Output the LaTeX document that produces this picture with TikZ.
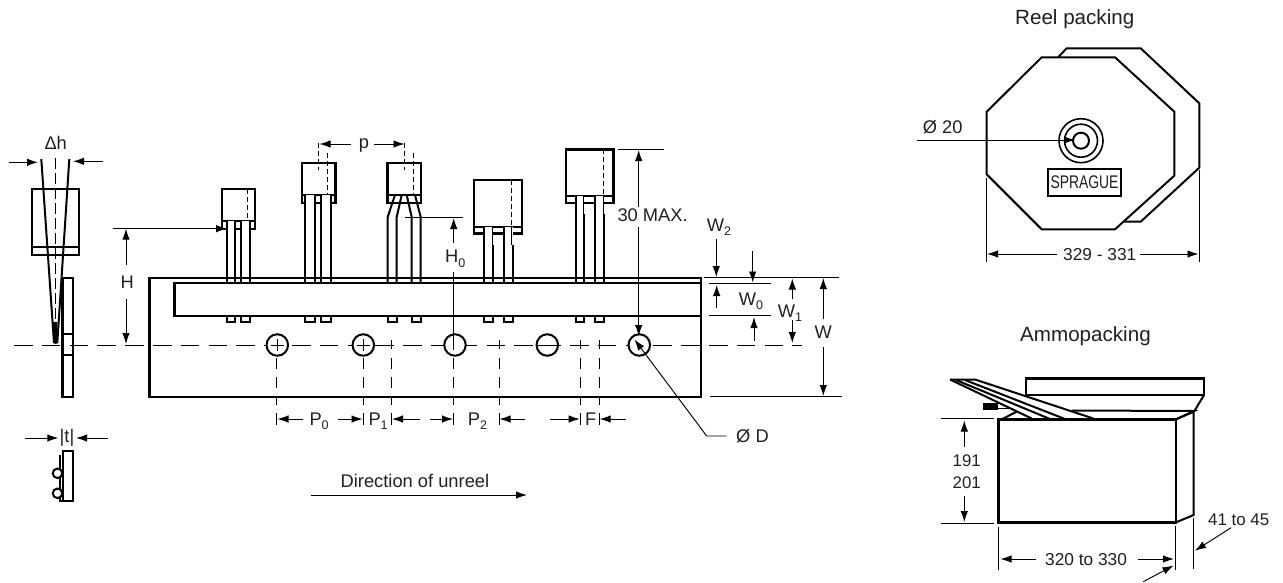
\documentclass[tikz,border=0pt]{standalone}
\usepackage{fontspec}
\setmainfont{Liberation Sans}
\usetikzlibrary{arrows.meta}
\definecolor{ink}{RGB}{35,31,32}
\newcommand{\sbs}[1]{\raisebox{-4.5pt}{\fontsize{12.5}{13}\selectfont #1}}
\tikzset{
 px/.style={x=1pt,y=-1pt},
 thick line/.style={line width=2.4pt,line join=miter},
 med line/.style={line width=2pt,line join=miter},
 thin line/.style={line width=0.95pt},
 arr/.style={thin line,-{Latex[length=11pt,width=7.5pt]}},
 center dash/.style={line width=0.95pt,dash pattern=on 18.5pt off 9.3pt},
 short dash/.style={line width=0.95pt,dash pattern=on 11pt off 8pt},
 fine dash/.style={line width=0.95pt,dash pattern=on 5pt off 3pt},
 lbl/.style={inner sep=0pt,text=ink,font=\fontsize{18.3}{20}\selectfont},
 lbls/.style={inner sep=0pt,text=ink,font=\fontsize{17.3}{20}\selectfont},
 title/.style={inner sep=0pt,text=ink,font=\fontsize{20.6}{22}\selectfont},
 hole/.style={circle,draw,line width=2pt,minimum size=21.5pt,inner sep=0pt,fill=white},
}
\begin{document}
\begin{tikzpicture}[px]
\useasboundingbox (0,0) rectangle (1283,582);
\fill[white] (0,0) rectangle (1283,582);
% tape
\draw[center dash] (14,345) -- (802,345);
\draw[thick line] (149.3,277.7) rectangle (700.7,396.7);
\draw[thick line] (174.3,282.7) rectangle (700.7,315.7);
% component bodies
\draw[thick line,fill=white] (221.7,189) rectangle (255,228.7);
\draw[med line] (221.7,221) -- (255,221);
\draw[fine dash] (247.7,189) -- (247.7,220);
\draw[thick line,fill=white] (301.7,162.7) rectangle (335.3,203);
\draw[med line] (301.7,194.5) -- (335.3,194.5);
\draw[fine dash] (327.7,152.7) -- (327.7,194);
\draw[fine dash] (318.3,143) -- (318.3,170);
\draw[thick line,fill=white] (387.3,162.7) rectangle (420.7,203);
\draw[med line] (387.3,194.5) -- (420.7,194.5);
\draw[fine dash] (413,152.7) -- (413,194);
\draw[fine dash] (404,143) -- (404,170);
\draw[thick line,fill=white] (474,180) rectangle (521.7,233.3);
\draw[med line] (474,226.7) -- (521.7,226.7);
\draw[fine dash] (511.7,180) -- (511.7,226);
\draw[thick line,fill=white] (565.7,149.3) rectangle (613.3,202.7);
\draw[med line] (565.7,196.2) -- (613.3,196.2);
\draw[fine dash] (603.3,149.3) -- (603.3,195);
% straight leads
\foreach \ya/\xa/\xb/\xc/\xd in {221/226.5/234.5/240.7/250, 194.5/305.3/315/320.7/330.7}{
 \fill[white] (\xa,\ya) rectangle (\xb,277);
 \fill[white] (\xc,\ya) rectangle (\xd,277);
 \draw[med line] (\xa,\ya) -- (\xa,282) (\xb,\ya) -- (\xb,282) (\xc,\ya) -- (\xc,282) (\xd,\ya) -- (\xd,282);
}
% leads with a narrower upper part
\foreach \ya/\xa/\xb/\xc/\xd in {226.7/484/493.3/504/512.7, 196.2/575.7/584.3/595/604}{
 \fill[white] (\xa,\ya) rectangle (\xb,277);
 \fill[white] (\xc,\ya) rectangle (\xd,277);
 \draw[med line] (\xa,\ya) -- (\xa,282) (\xb,\ya+18) -- (\xb,282) (\xc,\ya) -- (\xc,282) (\xd,\ya+18) -- (\xd,282);
 \draw[thin line] (\xb-1,\ya) -- (\xb-1,\ya+18) (\xd-1,\ya) -- (\xd-1,\ya+18);
}
% kinked leads
\fill[white] (388.5,204.5) rectangle (420,277);
\draw[med line] (387.7,282) -- (387.7,217) -- (395,195);
\draw[med line] (396.7,282) -- (396.7,217) -- (401.7,195);
\draw[med line] (411.7,282) -- (411.7,217) -- (406.7,195);
\draw[med line] (420.7,282) -- (420.7,217) -- (415,195);
\draw[med line] (387.3,203) -- (391,203) (398,203) -- (402,203) (407,203) -- (412,203) (418,203) -- (420.7,203);
% feet
\foreach \xa/\xb/\xc/\xd in {226.5/234.5/240.7/250, 305.3/315/320.7/330.7, 387.7/396.7/411.7/420.7, 484/493.3/504/512.7, 575.7/584.3/595/604}{
 \draw[med line] (\xa,316) |- (\xb,321.5) -- (\xb,316) (\xc,316) |- (\xd,321.5) -- (\xd,316);
}
% holes
\node[hole] (ha) at (277.3,345) {};
\node[hole] (hb) at (363.3,345) {};
\node[hole] (hc) at (455,345) {};
\node[hole] (hd) at (547.3,345) {};
\node[hole] (he) at (639.3,345) {};
\draw[thin line] (271,345) -- (284,345) (277,339) -- (277,351);
\draw[thin line] (357,345) -- (370,345) (363.3,339) -- (363.3,351);
\draw[thin line] (536,345) -- (558,345);
\foreach \x in {391,499,580.3,599}{\draw[thin line] (\x,340) -- (\x,348.5);}
\foreach \x in {276.7,363.7,391,453.7,499,580.3,599}{
 \draw[short dash] (\x,358) -- (\x,405);
 \draw[thin line] (\x,413) -- (\x,425);
}
% bottom dims
\node[lbl,anchor=base west] (p0) at (309.3,425) {P\sbs{0}};
\node[lbl,anchor=base west] (p1) at (368.3,425) {P\sbs{1}};
\node[lbl,anchor=base west] (p2) at (467.7,425) {P\sbs{2}};
\node[lbl,anchor=base west] (ff) at (585,425) {F};
\draw[arr] (303,419) -- (277.5,419);
\draw[arr] (338,419) -- (362.5,419);
\draw[arr] (420,419) -- (392,419);
\draw[arr] (430,419) -- (453,419);
\draw[arr] (525,419) -- (499.5,419);
\draw[arr] (550,419) -- (579.7,419);
\draw[arr] (626,419) -- (599.7,419);
% phi D
\node[lbl,anchor=base west] (od) at (736,442.7) {Ø D};
\draw[arr] (726.7,436) -- (706.7,436) -- (634.5,339.5);
% direction
\node[lbl,anchor=base west] (dir) at (340.5,487.5) {Direction of unreel};
\draw[arr] (311,495) -- (527,495);
% H
\node[lbl] (H) at (127.3,281.7) {H};
\draw[thin line] (113.3,228.7) -- (215,228.7);
\draw[arr] (215,228.7) -- (227,228.7);
\draw[arr] (126,265) -- (126,228.7);
\draw[arr] (126,299) -- (126,344);
% H0
\node[lbl,anchor=base west] (H0) at (445,262.7) {H\sbs{0}};
\draw[thin line] (405,217.3) -- (462.7,217.3);
\draw[arr] (453.7,242.7) -- (453.7,218);
\draw[thin line] (453.7,271.7) -- (453.7,350);
% p
\node[lbl] (pp) at (364,145.5) {p};
\draw[arr] (350.7,144) -- (319.5,144);
\draw[arr] (374,144) -- (404.5,144);
% 30 MAX
\node[lbl,anchor=base west] (max) at (617.3,221.7) {30 MAX.};
\draw[thin line] (618,149.3) -- (664,149.3);
\draw[arr] (638.7,207) -- (638.7,150);
\draw[arr] (638.7,227.3) -- (638.7,336);
% W dims
\node[lbl,anchor=base west] (W2) at (706.7,231) {W\sbs{2}};
\draw[thin line] (704,277.5) -- (839,277.5);
\draw[thin line] (709,283) -- (771,283);
\draw[thin line] (709,315) -- (771,315);
\draw[arr] (716.3,239.3) -- (716.3,277);
\draw[arr] (752.7,251) -- (752.7,282.5);
\draw[arr] (716.7,308.3) -- (716.7,285);
\node[lbl,anchor=base west] (W0) at (738.7,305) {W\sbs{0}};
\draw[arr] (754,340.7) -- (754,317);
\draw[arr] (792.3,299) -- (792.3,278.5);
\node[lbl,anchor=base west] (W1) at (777.7,317) {W\sbs{1}};
\draw[arr] (792.3,320) -- (792.3,343);
\node[lbl,anchor=base] (WW) at (823.3,338) {W};
\draw[arr] (823.3,319) -- (823.3,278);
\draw[arr] (823.3,346.7) -- (823.3,396);
\draw[thin line] (710,396.3) -- (841.7,396.3);
% side view
\draw[thick line] (32,189) rectangle (79,255);
\draw[med line] (32,246.7) -- (79,246.7);
\draw[thick line] (62.3,277.7) rectangle (72.7,396.7);
\draw[med line] (62.3,334) -- (72.7,334) (62.3,355) -- (72.7,355);
\fill[black] (52.5,322) -- (57.5,322) -- (57.3,343.5) -- (54,343.5) -- cycle;
\draw[med line] (41.3,159) -- (54,343);
\draw[med line] (69.3,159) -- (57.3,343);
\draw[thin line,dash pattern=on 11pt off 4pt] (55.5,158) -- (55.5,344);
\node[lbl,anchor=base] (dh) at (55.7,149) {Δh};
\draw[arr] (9.3,162.3) -- (38,162.3);
\draw[arr] (102.7,161.3) -- (73,161.3);
% t
\node[lbl] (tt) at (67,437.5) {|t|};
\draw[arr] (25.3,438) -- (58.3,438);
\draw[arr] (107.7,438) -- (76,438);
\draw[med line] (62.5,450.7) rectangle (73,501);
\draw[med line] (60,455) -- (60,501) -- (63,501);
\node[circle,draw,line width=2pt,minimum size=9.5pt,inner sep=0pt,fill=white] (c1) at (57.5,473.3) {};
\node[circle,draw,line width=2pt,minimum size=9.5pt,inner sep=0pt,fill=white] (c2) at (57.5,493.3) {};
% Reel packing
\node[title,anchor=base west] (rp) at (1015,24) {Reel packing};
\draw[med line] (1058.3,57) -- (1066.7,48.3) -- (1140.7,48.3) -- (1199.3,103.3) -- (1199.3,167.7) -- (1140.7,221.7) -- (1123.3,221.7);
\draw[med line,fill=white] (1041.7,57.3) -- (1115,57.3) -- (1174.3,111.7) -- (1174.3,175.7) -- (1115,229.3) -- (1041.7,229.3) -- (986.7,174.3) -- (986.7,111.7) -- cycle;
\node[circle,draw,line width=1.6pt,minimum size=44pt,inner sep=0pt] (o1) at (1081,140.7) {};
\node[circle,draw,line width=1.6pt,minimum size=33pt,inner sep=0pt] (o2) at (1081,140.7) {};
\node[circle,draw,line width=2pt,minimum size=16pt,inner sep=0pt] (o3) at (1081,140.7) {};
\draw[arr] (917,140) -- (1075,140);
\node[lbl,anchor=base west] (o20) at (922.7,133.3) {Ø 20};
\node[draw,line width=1.8pt,minimum width=73pt,minimum height=27.5pt,inner sep=0pt,lbl] (spr) at (1084.5,182.5) {\scalebox{0.76}[1]{SPRAGUE}};
\draw[thin line] (986.7,177.7) -- (986.7,262);
\draw[thin line] (1199.3,170) -- (1199.3,262);
\node[lbls,anchor=base west] (rd) at (1063,260.7) {329 - 331};
\draw[arr] (1057,254) -- (987,254);
\draw[arr] (1140,254) -- (1198.5,254);
% Ammopacking
\node[title,anchor=base west] (am) at (1020,341) {Ammopacking};
\draw[thick line] (1026,378.3) rectangle (1204,395);
\draw[med line] (1204,395) -- (1194,411.7);
\draw[med line] (1071.7,410.5) -- (1194,411) -- (1176,419.3);
\draw[med line] (1001.7,419.3) -- (1016.7,411.7);
\fill[black] (983.3,402.7) rectangle (998.3,410);
\draw[thin line] (998,408) -- (1016,408);
\fill[white] (950,379.3) -- (975,379.3) -- (1093.3,418.3) -- (1031.7,418.3) -- cycle;
\draw[med line] (950,379.5) -- (975,379.5) -- (1093.3,418.5);
\draw[med line] (950,379.5) -- (1031.7,418.5);
\draw[med line] (956,380) -- (1050,419);
\draw[med line] (965,380) -- (1065,419);
\draw[thick line] (998.3,419.3) rectangle (1176,522.3);
\draw[med line] (1176,419.3) -- (1193.7,411.7) -- (1193.7,515) -- (1176,522.3);
\draw[thin line] (941,418.7) -- (994,418.7);
\draw[thin line] (941,523.3) -- (994,523.3);
\node[lbls,anchor=base,font=\fontsize{16.8}{20}\selectfont] (n191) at (966.7,466) {191};
\node[lbls,anchor=base,font=\fontsize{16.8}{20}\selectfont] (n201) at (966.7,488.3) {201};
\draw[arr] (964.3,446.7) -- (964.3,420.5);
\draw[arr] (964.3,496) -- (964.3,522);
\draw[thin line] (998.3,526.7) -- (998.3,570);
\draw[thin line] (1175,525.7) -- (1175,570);
\draw[thin line] (1193.7,518) -- (1193.7,569);
\node[lbls,anchor=base west] (n320) at (1045,565) {320 to 330};
\draw[arr] (1036,559) -- (1000.5,559);
\draw[arr] (1138.3,559) -- (1174,559);
\node[lbls,anchor=base west,font=\fontsize{16.9}{20}\selectfont] (n41) at (1208,525) {41 to 45};
\draw[arr] (1231,527.7) -- (1195,550.7);
\draw[arr] (1143.3,581.7) -- (1173.5,565.5);
\end{tikzpicture}
\end{document}
